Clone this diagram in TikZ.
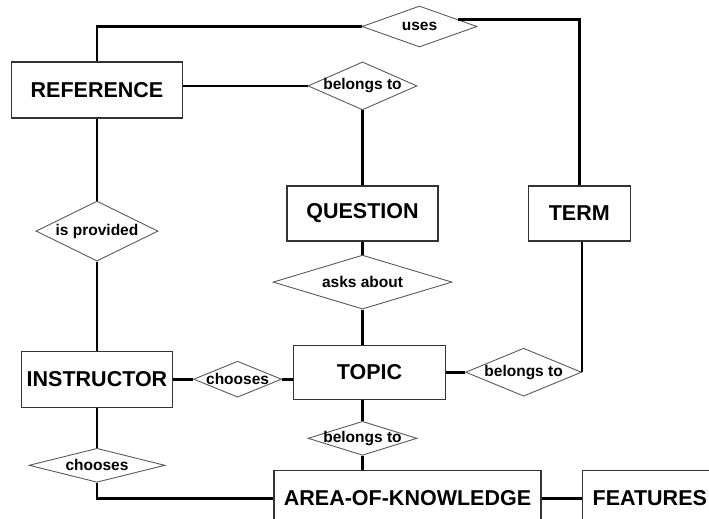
\documentclass[tikz,border=0pt]{standalone}
\usepackage{fontspec}
\setmainfont{Liberation Sans}
\usetikzlibrary{shapes.geometric, positioning}
\newcommand{\reltext}[1]{\makebox[0pt]{#1}}

\begin{document}
\begin{tikzpicture}[
    x=1pt, y=1pt,
    base/.style={draw, align=center, inner sep=0pt},
    entity/.style={base, rectangle, draw=black!80, line width=1.3pt, minimum height=55pt, font=\fontsize{21.5}{24}\selectfont\bfseries},
    relation/.style={base, diamond, draw=black!65, line width=0.9pt, font=\fontsize{15.5}{17}\selectfont\bfseries},
    link/.style={line width=2.6pt, black}
  ]
    \path[use as bounding box, clip] (0,0) rectangle (709,-519);
    % entities and relations
    \node[entity, minimum width=171pt, minimum height=56pt] (ref) at (97,-90) {REFERENCE};
    \node[relation, below=82pt of ref, minimum width=122pt, minimum height=60pt] (isprov) {\reltext{is provided}};
    \node[entity, below=89pt of isprov, minimum width=151pt, minimum height=56pt] (instr) {INSTRUCTOR};
    \node[relation, below=40pt of instr, minimum width=136pt, minimum height=34pt] (cho2) {\reltext{chooses}};
    \node[entity, minimum width=151pt] (quest) at (362.5,-213.5) {QUESTION};
    \node[relation, above=75pt of quest, minimum width=109pt, minimum height=48pt] (bel1) {\reltext{belongs to}};
    \node[relation, above=14pt of bel1, xshift=57pt, minimum width=115pt, minimum height=41pt] (uses) {\reltext{uses}};
    \node[entity, right=89pt of quest, minimum width=102pt] (term) {TERM};
    \node[relation, below=13pt of quest, minimum width=179pt, minimum height=54pt] (asks) {\reltext{asks about}};
    \node[entity, below=35pt of asks, xshift=7pt, minimum width=152pt, minimum height=54pt] (topic) {TOPIC};
    \node[relation, right=20pt of instr, minimum width=88pt, minimum height=36pt] (cho1) {\reltext{chooses}};
    \node[relation, right=19pt of topic, minimum width=116pt, minimum height=48pt] (bel3) {\reltext{belongs to}};
    \node[relation, below=21pt of topic, xshift=-7pt, minimum width=109pt, minimum height=34pt] (bel2) {\reltext{belongs to}};
    \node[entity, below=14pt of bel2, xshift=45pt, minimum width=267pt, minimum height=56pt] (area) {AREA-OF-KNOWLEDGE};
    \node[entity, right=40pt of area, minimum width=135pt, minimum height=56pt] (feat) {FEATURES};
    % connectors
    \draw[link] (ref.north) |- (uses.west);
    \draw[link] (uses.10) -| (term.north);
    \draw[link] (ref.east |- bel1.west) -- (bel1.west);
    \draw[link] (bel1) -- (quest);
    \draw[link] (quest) -- (asks);
    \draw[link] (asks.south) -- (asks.south |- topic.north);
    \draw[link] (bel3.east) -- (bel3.east |- term.south);
    \draw[link] (topic) -- (bel3);
    \draw[link] (bel2.north) -- (bel2.north |- topic.south);
    \draw[link] (bel2.south) -- (bel2.south |- area.north);
    \draw[link] (ref) -- (isprov);
    \draw[link] (isprov) -- (instr);
    \draw[link] (instr) -- (cho1);
    \draw[link] (cho1.east) -- (cho1.east -| topic.west);
    \draw[link] (instr) -- (cho2);
    \draw[link] (cho2.south) |- (area.west);
    \draw[link] (area) -- (feat);
  \end{tikzpicture}
\end{document}
